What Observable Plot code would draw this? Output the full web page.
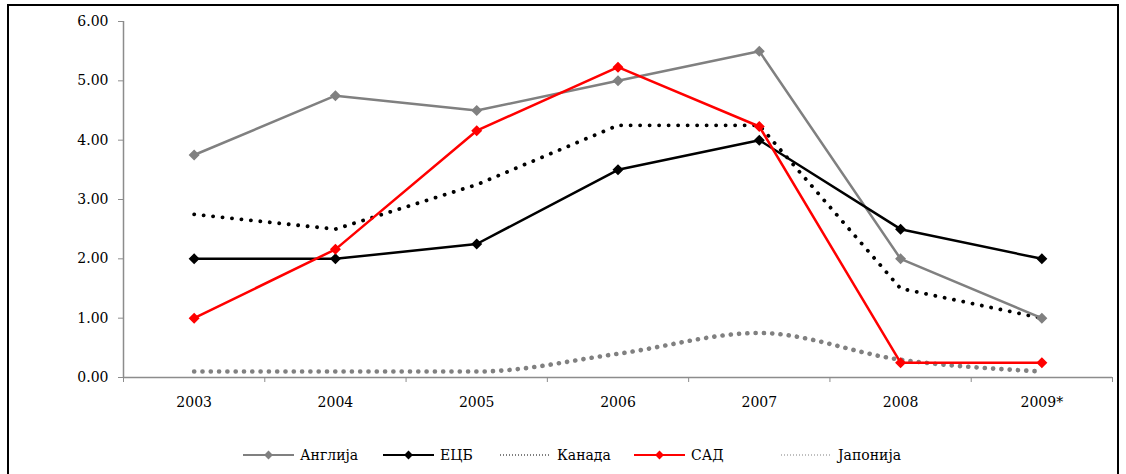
<!DOCTYPE html>
<html>
<head>
<meta charset="utf-8">
<script src="https://cdn.jsdelivr.net/npm/d3@7"></script>
<script src="https://cdn.jsdelivr.net/npm/@observablehq/plot@0.6"></script>
<style>
  html, body { margin: 0; padding: 0; background: #fff; width: 1126px; height: 474px; overflow: hidden; }
  #frame { position: absolute; left: 7px; top: 4px; width: 1112px; height: 480px; border: 2px solid #000; box-sizing: border-box; }
  #chart { position: absolute; left: 0; top: 0; }
  #legend { position: absolute; left: 0; top: 435px; }
</style>
</head>
<body>
<div id="frame"></div>
<div id="chart"></div>
<div id="legend"></div>
<script>
const years = [2003, 2004, 2005, 2006, 2007, 2008, 2009];
const yearLabels = ["2003", "2004", "2005", "2006", "2007", "2008", "2009*"];
const seriesNames = ["Англија", "ЕЦБ", "Канада", "САД", "Јапонија"];
const england = [3.75, 4.75, 4.5, 5.0, 5.5, 2.0, 1.0];
const ecb     = [2.0, 2.0, 2.25, 3.5, 4.0, 2.5, 2.0];
const canada  = [2.75, 2.5, 3.25, 4.25, 4.25, 1.5, 1.0];
const usa     = [1.0, 2.16, 4.16, 5.23, 4.23, 0.25, 0.25];
const japan   = [0.1, 0.1, 0.1, 0.4, 0.75, 0.3, 0.1];
const yTicks  = [0, 1, 2, 3, 4, 5, 6];

const mk = (vals) => years.map((y, i) => ({year: y, value: vals[i]}));
const dEng = mk(england), dEcb = mk(ecb), dCan = mk(canada), dUsa = mk(usa), dJap = mk(japan);
const boundaries = [...years.map(y => y - 0.5), years[years.length - 1] + 0.5];

const font = "DejaVu Serif";
const plot = Plot.plot({
  width: 1126,
  height: 440,
  marginLeft: 123,
  marginRight: 14,
  marginTop: 21,
  marginBottom: 63,
  style: {fontFamily: font, fontSize: "14px", color: "#000", background: "transparent"},
  x: {type: "linear", domain: [2002.5, 2009.5], label: null},
  y: {domain: [0, 6], label: null},
  marks: [
    Plot.ruleY([0], {stroke: "#8c8c8c", strokeWidth: 1.5}),
    Plot.ruleX([2002.5], {stroke: "#8c8c8c", strokeWidth: 1.5}),
    Plot.axisY({ticks: yTicks, tickFormat: d => d.toFixed(2), tickSize: 5, tickPadding: 10, stroke: "#8c8c8c", fill: "#000", fontSize: 14, fontFamily: font, label: null}),
    Plot.axisX({ticks: boundaries, tickFormat: () => "", tickSize: 5, stroke: "#8c8c8c", label: null}),
    Plot.axisX({ticks: years, tickFormat: d => yearLabels[years.indexOf(d)], tickSize: 0, tickPadding: 20, fill: "#000", fontSize: 14, fontFamily: font, label: null}),
    Plot.line(dJap, {x: "year", y: "value", curve: "monotone-x", stroke: "#808080", strokeWidth: 4.6, strokeDasharray: "0.1 8.2", strokeLinecap: "round"}),
    Plot.line(dCan, {x: "year", y: "value", stroke: "#000", strokeWidth: 3.8, strokeDasharray: "0.1 9.4", strokeLinecap: "round"}),
    Plot.line(dEng, {x: "year", y: "value", stroke: "#808080", strokeWidth: 2.5}),
    Plot.dot(dEng, {x: "year", y: "value", symbol: "diamond2", r: 4, fill: "#808080", stroke: "#808080"}),
    Plot.line(dEcb, {x: "year", y: "value", stroke: "#000", strokeWidth: 2.5}),
    Plot.dot(dEcb, {x: "year", y: "value", symbol: "diamond2", r: 4, fill: "#000", stroke: "#000"}),
    Plot.line(dUsa, {x: "year", y: "value", stroke: "#ff0000", strokeWidth: 2.5}),
    Plot.dot(dUsa, {x: "year", y: "value", symbol: "diamond2", r: 4, fill: "#ff0000", stroke: "#ff0000"})
  ]
});
document.getElementById("chart").appendChild(plot);

// Legend
const legendItems = [
  {name: seriesNames[0], color: "#808080", marker: true, dash: null, width: 2},
  {name: seriesNames[1], color: "#000", marker: true, dash: null, width: 2},
  {name: seriesNames[2], color: "#000", marker: false, dash: "1 2", width: 1.2},
  {name: seriesNames[3], color: "#ff0000", marker: true, dash: null, width: 2},
  {name: seriesNames[4], color: "#808080", marker: false, dash: "1 2", width: 1.2}
];
const legendX = [243, 383, 500, 634, 781];
const svg = d3.select("#legend").append("svg").attr("width", 1126).attr("height", 40);
legendItems.forEach((it, i) => {
  const g = svg.append("g").attr("transform", `translate(${legendX[i]},20)`);
  g.append("line").attr("x1", 0).attr("x2", 51).attr("y1", 0).attr("y2", 0)
    .attr("stroke", it.color).attr("stroke-width", it.width)
    .attr("stroke-dasharray", it.dash);
  if (it.marker) {
    g.append("path").attr("d", d3.symbol(d3.symbolDiamond2, 50)()).attr("transform", "translate(25.5,0)")
      .attr("fill", it.color);
  }
  g.append("text").attr("x", 57).attr("y", 0).attr("dy", "0.35em")
    .attr("font-size", 14).attr("font-family", font).attr("fill", "#000").text(it.name);
});
</script>
</body>
</html>
